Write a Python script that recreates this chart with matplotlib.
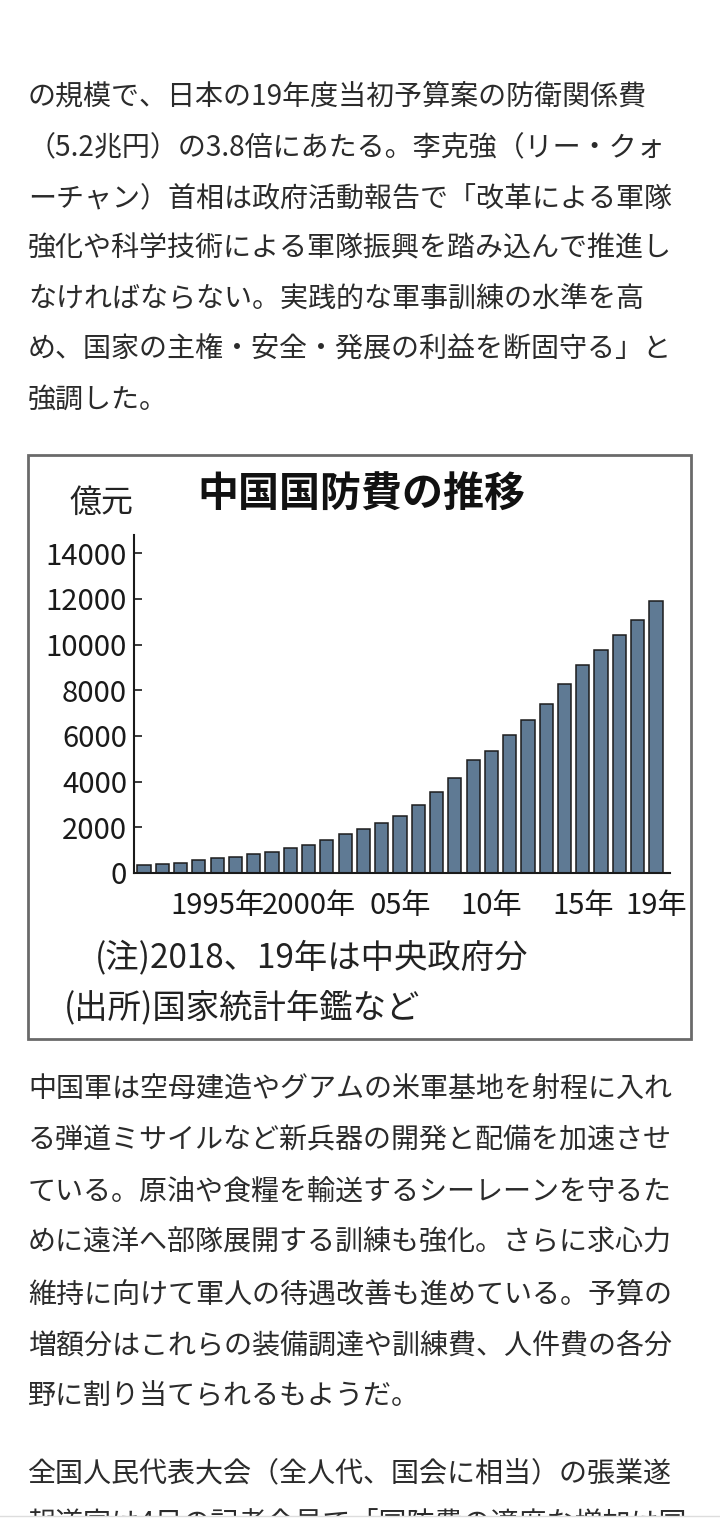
import matplotlib
matplotlib.use("Agg")
import matplotlib.pyplot as plt
from matplotlib.patches import Rectangle

plt.rcParams['font.family'] = ['Noto Sans CJK JP', 'DejaVu Sans']

W, H = 720, 1538

# 中国国防費 (億元), 1991-2019
years = list(range(1991, 2020))
spending = [330, 378, 432, 550, 636, 720, 812, 934, 1076, 1207,
            1442, 1707, 1907, 2200, 2475, 2979, 3555, 4178, 4951, 5333,
            6028, 6692, 7411, 8290, 9088, 9766, 10432, 11070, 11899]
tick_years = [1995, 2000, 2005, 2010, 2015, 2019]
tick_labels = ['1995年', '2000年', '05年', '10年', '15年', '19年']
y_ticks = [0, 2000, 4000, 6000, 8000, 10000, 12000, 14000]

para1 = ["の規模で、日本の19年度当初予算案の防衛関係費",
         "（5.2兆円）の3.8倍にあたる。李克強（リー・クォ",
         "ーチャン）首相は政府活動報告で「改革による軍隊",
         "強化や科学技術による軍隊振興を踏み込んで推進し",
         "なければならない。実践的な軍事訓練の水準を高",
         "め、国家の主権・安全・発展の利益を断固守る」と",
         "強調した。"]
para2 = ["中国軍は空母建造やグアムの米軍基地を射程に入れ",
         "る弾道ミサイルなど新兵器の開発と配備を加速させ",
         "ている。原油や食糧を輸送するシーレーンを守るた",
         "めに遠洋へ部隊展開する訓練も強化。さらに求心力",
         "維持に向けて軍人の待遇改善も進めている。予算の",
         "増額分はこれらの装備調達や訓練費、人件費の各分",
         "野に割り当てられるもようだ。"]
para3 = ["全国人民代表大会（全人代、国会に相当）の張業遂",
         "報道官は4日の記者会見で「国防費の適度な増加は国"]


def fx(x):
    return x / W


def fy(y):
    return 1 - y / H


fig = plt.figure(figsize=(W / 100, H / 100), dpi=100)
fig.patch.set_facecolor('white')

body_color = '#2b2b2b'
body_size = 20.2


def draw_para(lines, y0, step):
    for i, line in enumerate(lines):
        fig.text(fx(28), fy(y0 + i * step), line, fontsize=body_size,
                 color=body_color, va='center', ha='left')


draw_para(para1, 97, 50.5)
draw_para(para2, 1089, 51.3)
draw_para(para3, 1473, 52)

# chart frame
fig.patches.append(Rectangle((fx(28), fy(1039)), fx(691) - fx(28), fy(455) - fy(1039),
                             transform=fig.transFigure, fill=False,
                             edgecolor='#6a6a6a', linewidth=2))

fig.text(fx(361), fy(495), '中国国防費の推移', fontsize=29.5, fontweight='bold',
         color='#111111', ha='center', va='center')
fig.text(fx(102), fy(503), '億元', fontsize=23, color='#222222', ha='center', va='center')

ax = fig.add_axes([fx(134), fy(873), fx(670) - fx(134), fy(535) - fy(873)])
x = [yr - years[0] for yr in years]
ax.bar(x, spending, width=0.72, color='#5f7a94', edgecolor='#1c1c1c', linewidth=1.1)
ax.set_xlim(-0.55, 28.77)
ax.set_ylim(0, 14800)
ax.set_yticks(y_ticks)
ax.set_yticklabels([str(v) for v in y_ticks])
ax.set_xticks([yr - years[0] for yr in tick_years])
ax.set_xticklabels(tick_labels)
ax.tick_params(axis='y', direction='in', length=6, width=1.2, pad=5,
               labelsize=21, colors='#1a1a1a')
ax.tick_params(axis='x', length=0, pad=13, labelsize=21, colors='#1a1a1a')
for side in ['top', 'right']:
    ax.spines[side].set_visible(False)
for side in ['left', 'bottom']:
    ax.spines[side].set_linewidth(1.5)
    ax.spines[side].set_color('#1a1a1a')
ax.set_facecolor('none')

fig.text(fx(95), fy(958), '(注)2018、19年は中央政府分', fontsize=24,
         color='#222222', ha='left', va='center')
fig.text(fx(64), fy(1008), '(出所)国家統計年鑑など', fontsize=24,
         color='#222222', ha='left', va='center')

# bottom cut-off of the page
fig.patches.append(Rectangle((0, 0), 1, fy(1516), transform=fig.transFigure,
                             facecolor='white', edgecolor='none', zorder=10))
fig.lines.append(plt.Line2D([0, 1], [fy(1516), fy(1516)], transform=fig.transFigure,
                            color='#dddddd', linewidth=1, zorder=11))

fig.savefig('out.png', dpi=100)
